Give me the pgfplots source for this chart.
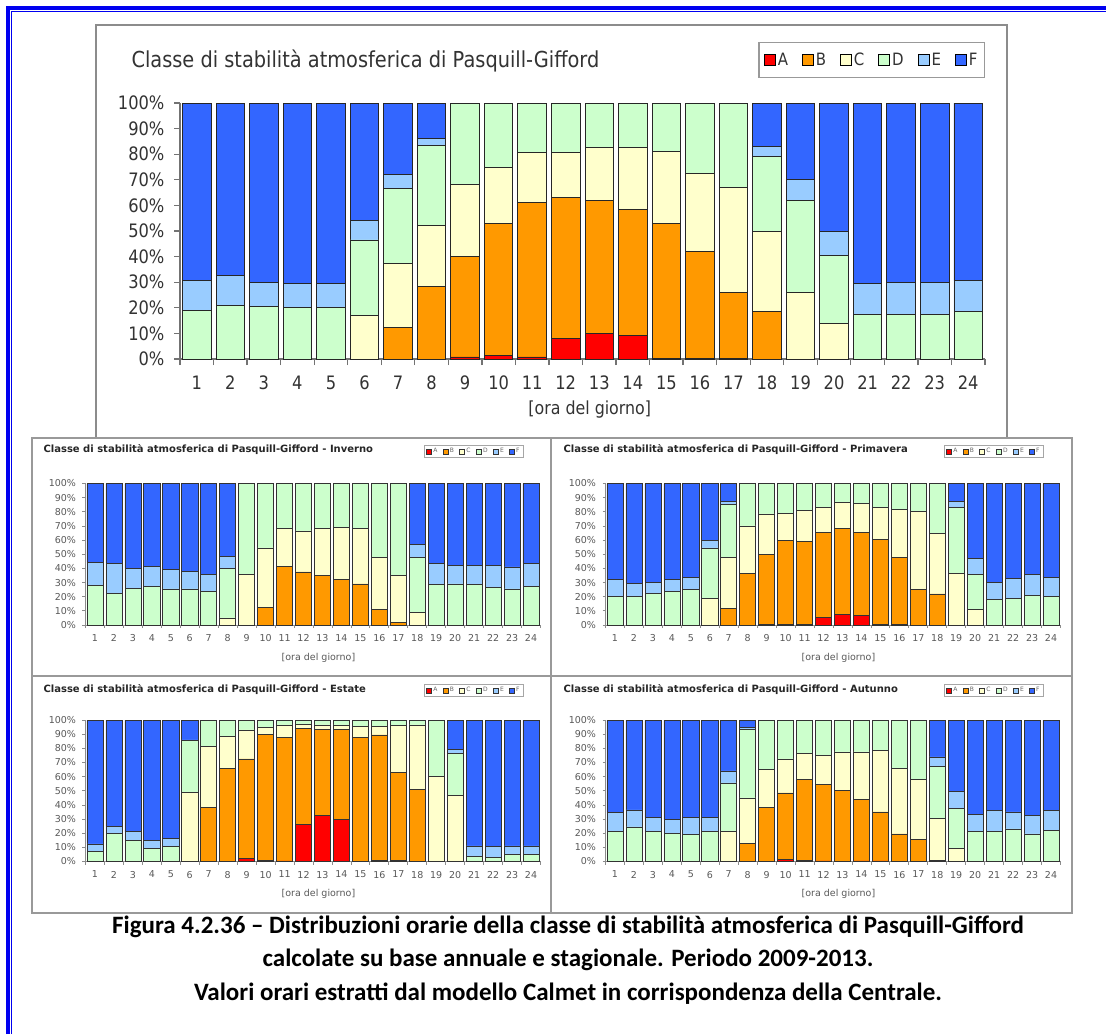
\documentclass[border=0pt]{standalone}
\usepackage{fontspec}
\setmainfont{DejaVu Sans}[FakeStretch=0.88]
\newfontfamily\sfont{DejaVu Sans}
\newfontfamily\capfont{Carlito}
\usepackage{pgfplots}
\usepackage{pgfplotstable}
\pgfplotsset{compat=1.18}

\definecolor{cA}{HTML}{FF0000}
\definecolor{cB}{HTML}{FF9900}
\definecolor{cC}{HTML}{FFFFCC}
\definecolor{cD}{HTML}{CCFFCC}
\definecolor{cE}{HTML}{99CCFF}
\definecolor{cF}{HTML}{3366FF}
\definecolor{frameblue}{HTML}{0000F0}

% annual
\pgfplotstableread{
h A B C D E F
1 0 0 0 19 11.5 69.5
2 0 0 0 21 11.8 67.2
3 0 0 0 20.5 9.5 70
4 0 0 0 20 9.5 70.5
5 0 0 0 20 9.5 70.5
6 0 0 17 29.5 7.5 46
7 0 12.5 25 29 5.5 28
8 0 28.5 23.5 31.5 2.5 14
9 0.8 39.2 28 32 0 0
10 1.5 51.5 22 25 0 0
11 0.8 60.2 19.5 19.5 0 0
12 8 55 17.5 19.5 0 0
13 10 52 20.5 17.5 0 0
14 9.3 49.2 24 17.5 0 0
15 0.3 52.7 28 19 0 0
16 0.2 41.8 30.5 27.5 0 0
17 0.2 25.8 41 33 0 0
18 0 18.5 31.5 29 4 17
19 0 0 26 36 8 30
20 0 0 14 26.5 9.5 50
21 0 0 0 17.5 12 70.5
22 0 0 0 17.5 12.3 70.2
23 0 0 0 17.5 12.3 70.2
24 0 0 0 18.5 12 69.5
}\tAnn

% winter
\pgfplotstableread{
h A B C D E F
1 0 0 0 28 16 56
2 0 0 0 22.5 21 56.5
3 0 0 0 26 14 60
4 0 0 0 27.5 14 58.5
5 0 0 0 25.5 14 60.5
6 0 0 0 25.5 12.5 62
7 0 0 0 24 12 64
8 0 0 5 35 8.5 51.5
9 0 0 36 64 0 0
10 0 12.5 42 45.5 0 0
11 0 41.5 26.5 32 0 0
12 0 37.5 29 33.5 0 0
13 0 35 33.5 31.5 0 0
14 0 32 37 31 0 0
15 0 29 39.5 31.5 0 0
16 0 11 36.5 52.5 0 0
17 0 2 33 65 0 0
18 0 0 9 39 9 43
19 0 0 0 28.5 15 56.5
20 0 0 0 29 13 58
21 0 0 0 28.5 13.5 58
22 0 0 0 26.5 15.5 58
23 0 0 0 25.5 15.5 59
24 0 0 0 27.5 16 56.5
}\tWin

% spring
\pgfplotstableread{
h A B C D E F
1 0 0 0 20 12 68
2 0 0 0 20 9.5 70.5
3 0 0 0 22.5 7.5 70
4 0 0 0 23.5 8.5 68
5 0 0 0 25 8.5 66.5
6 0 0 19 35.5 5.5 40
7 0 12 35.5 37.5 2.5 12.5
8 0 36.5 33.5 30 0 0
9 0.5 49.5 28.5 21.5 0 0
10 0.7 59.3 19 21 0 0
11 0.7 58.4 22 18.9 0 0
12 5.5 60 17.5 17 0 0
13 7.5 61 18 13.5 0 0
14 7 58.5 20.5 14 0 0
15 0.3 60.2 22.5 17 0 0
16 0.5 47.5 33.5 18.5 0 0
17 0 25 55.5 19.5 0 0
18 0 22 43 35 0 0
19 0 0 36.5 46.5 4.5 12.5
20 0 0 11 25 11 53
21 0 0 0 18 12 70
22 0 0 0 19 14 67
23 0 0 0 21 15 64
24 0 0 0 20 13.5 66.5
}\tSpr

% summer
\pgfplotstableread{
h A B C D E F
1 0 0 0 7 5.5 87.5
2 0 0 0 20 5 75
3 0 0 0 15 6 79
4 0 0 0 9 6 85
5 0 0 0 10.5 6 83.5
6 0 0 49 36.5 0.5 14
7 0 38 43.5 18.5 0 0
8 0 66 22.5 11.5 0 0
9 2 70.5 20.5 7 0 0
10 0.7 89.3 5 5 0 0
11 0.5 87 9 3.5 0 0
12 26.5 67.5 3 3 0 0
13 32.5 61 3 3.5 0 0
14 30 63.5 3 3.5 0 0
15 0.3 87.2 8 4.5 0 0
16 0.8 88.7 6 4.5 0 0
17 0.8 62.2 33 4 0 0
18 0 51 45.5 3.5 0 0
19 0 0 60 40 0 0
20 0 0 47 29.5 2.5 21
21 0 0 0 3.5 7.5 89
22 0 0 0 3 7.5 89.5
23 0 0 0 5 6 89
24 0 0 0 5 6 89
}\tSum

% autumn
\pgfplotstableread{
h A B C D E F
1 0 0 0 21 13.5 65.5
2 0 0 0 24.5 12 63.5
3 0 0 0 21 10 69
4 0 0 0 20 10 70
5 0 0 0 19 12 69
6 0 0 0 21.5 9.5 69
7 0 0 21.5 34 8.5 36
8 0 13 32 48.5 1 5.5
9 0 38.5 26.5 35 0 0
10 1.5 47 24 27.5 0 0
11 0.8 57.2 18.5 23.5 0 0
12 0.5 54 20.5 25 0 0
13 0.3 49.7 27.5 22.5 0 0
14 0.5 43.5 33.5 22.5 0 0
15 0.5 34.5 43.5 21.5 0 0
16 0 19.5 46.5 34 0 0
17 0 15.5 42.5 42 0 0
18 0 0.8 29.7 36.5 7 26
19 0 0 9.5 28 12 50.5
20 0 0 0 21.5 12 66.5
21 0 0 0 21.5 14.5 64
22 0 0 0 23 12 65
23 0 0 0 19.5 13 67.5
24 0 0 0 22 14 64
}\tAut

\pgfplotsset{
  bm/.style={draw=black!85, line width=0.9pt,
    legend image code/.code={\draw[##1, draw=black, line width=0.8pt] (0pt,-5.5pt) rectangle (11pt,5.5pt);}},
  bs/.style={draw=black!80, line width=0.6pt,
    legend image code/.code={\draw[##1, draw=black!80, line width=0.4pt] (0pt,-2.5pt) rectangle (5pt,2.5pt);}},
  common/.style={
    anchor=south west, scale only axis,
    ybar stacked, bar width=0.85, enlargelimits=false,
    xmin=0.5, xmax=24.5, ymin=0, ymax=100,
    axis x line=bottom, axis y line=left,
    tick align=outside,
    ytick={0,10,...,100},
    yticklabels={0\%,10\%,20\%,30\%,40\%,50\%,60\%,70\%,80\%,90\%,100\%},
    xtick={0.5,1.5,...,24.5}, xticklabels={},
    extra x ticks={1,2,...,24},
    extra x tick labels={1,2,3,4,5,6,7,8,9,10,11,12,13,14,15,16,17,18,19,20,21,22,23,24},
    extra x tick style={major tick length=0pt},
    legend columns=6,
    xlabel={[ora del giorno]},
  },
  small/.style={
    common,
    width=455pt, height=141.5pt,
    axis line style={-, draw=black!45, line width=0.8pt},
    major tick length=3pt,
    tick style={draw=black!45, line width=0.8pt},
    ticklabel style={font=\sfont\fontsize{9.5}{10}\selectfont, text=black!65},
    xticklabel style={yshift=-6pt},
    yticklabel style={xshift=-3pt},
    xlabel style={at={(axis description cs:0.512,-0.23)}, anchor=center, font=\sfont\fontsize{9.5}{10}\selectfont, text=black!65},
    title style={anchor=west, yshift=-6pt, font=\sfont\bfseries\fontsize{10}{10}\selectfont, text=black!85},
    legend style={anchor=north east, draw=black!35, line width=0.6pt, fill=white,
      font=\sfont\fontsize{6}{6}\selectfont, text=black!60, inner xsep=1.5pt, inner ysep=1.5pt,
      /tikz/every even column/.append style={column sep=3pt}},
  },
}

\newcommand{\sixbars}[2]{%
  \addplot[fill=cA, #2] table[x=h,y=A]{#1};
  \addplot[fill=cB, #2] table[x=h,y=B]{#1};
  \addplot[fill=cC, #2] table[x=h,y=C]{#1};
  \addplot[fill=cD, #2] table[x=h,y=D]{#1};
  \addplot[fill=cE, #2] table[x=h,y=E]{#1};
  \addplot[fill=cF, #2] table[x=h,y=F]{#1};
  \legend{A,B,C,D,E,F}
}

\begin{document}
\begin{tikzpicture}
\useasboundingbox (0pt,0pt) rectangle (1106pt,-1034pt);
\fill[white] (0pt,0pt) rectangle (1106pt,-1034pt);

% blue frame (top and left)
\draw[frameblue, line width=3.5pt] (7.75pt,-1034pt) -- (7.75pt,-7.75pt) -- (1106pt,-7.75pt);
\draw[frameblue, line width=1.4pt] (11.6pt,-1034pt) -- (11.6pt,-11.6pt) -- (1106pt,-11.6pt);

% frames of the charts
\draw[black!45, line width=1.6pt] (96pt,-438pt) -- (96pt,-25pt) -- (1007pt,-25pt) -- (1007pt,-438pt);
\draw[black!40, line width=1.4pt] (32pt,-438pt) rectangle (1072pt,-913pt);
\draw[black!40, line width=1.4pt] (551pt,-438pt) -- (551pt,-913pt);
\draw[black!40, line width=1.4pt] (32pt,-676pt) -- (1072pt,-676pt);

% main annual chart
\begin{axis}[common,
  at={(180pt,-359pt)}, width=805pt, height=256pt,
  axis line style={-, draw=black!55, line width=1.3pt},
  major tick length=6pt,
  tick style={draw=black!55, line width=1.3pt},
  ticklabel style={font=\fontsize{18.5}{18.5}\selectfont, text=black!80},
  xticklabel style={yshift=-13pt},
  yticklabel style={xshift=-6pt},
  xlabel style={at={(axis description cs:0.509,-0.199)}, anchor=center, font=\fontsize{18}{18}\selectfont, text=black!80},
  title={Classe di stabilità atmosferica di Pasquill-Gifford},
  title style={at={(axis description cs:-0.0646,1.137)}, anchor=base west, yshift=-6pt, font=\fontsize{22}{22}\selectfont, text=black!80},
  legend style={at={(1,1.238)}, anchor=north east, draw=black!40, line width=1.2pt, fill=white,
    font=\fontsize{17}{17}\selectfont, text=black!80, inner xsep=5pt, inner ysep=8.5pt,
    /tikz/every even column/.append style={column sep=12pt}},
]
\sixbars{\tAnn}{bm}
\end{axis}

% Inverno
\begin{axis}[small, at={(85.5pt,-625pt)},
  title={Classe di stabilità atmosferica di Pasquill-Gifford - Inverno},
  title style={at={(axis description cs:-0.1,1.237)}},
  legend style={at={(0.9626,1.2756)}},
]
\sixbars{\tWin}{bs}
\end{axis}

% Primavera
\begin{axis}[small, at={(605.5pt,-625pt)},
  title={Classe di stabilità atmosferica di Pasquill-Gifford - Primavera},
  title style={at={(axis description cs:-0.1,1.237)}},
  legend style={at={(0.9626,1.2756)}},
]
\sixbars{\tSpr}{bs}
\end{axis}

% Estate
\begin{axis}[small, at={(85.5pt,-861.5pt)},
  title={Classe di stabilità atmosferica di Pasquill-Gifford - Estate},
  title style={at={(axis description cs:-0.1,1.212)}},
  legend style={at={(0.9626,1.258)}},
]
\sixbars{\tSum}{bs}
\end{axis}

% Autunno
\begin{axis}[small, at={(605.5pt,-861.5pt)},
  title={Classe di stabilità atmosferica di Pasquill-Gifford - Autunno},
  title style={at={(axis description cs:-0.1,1.212)}},
  legend style={at={(0.9626,1.258)}},
]
\sixbars{\tAut}{bs}
\end{axis}

% caption
\begin{scope}[every node/.style={font=\capfont\bfseries\fontsize{25}{25}\selectfont, anchor=center, inner sep=0pt}]
\node at (568pt,-927pt) {Figura 4.2.36 – Distribuzioni orarie della classe di stabilità atmosferica di Pasquill-Gifford};
\node at (568pt,-960pt) {calcolate su base annuale e stagionale. Periodo 2009-2013.};
\node at (568pt,-994pt) {Valori orari estratti dal modello Calmet in corrispondenza della Centrale.};
\end{scope}
\end{tikzpicture}
\end{document}
